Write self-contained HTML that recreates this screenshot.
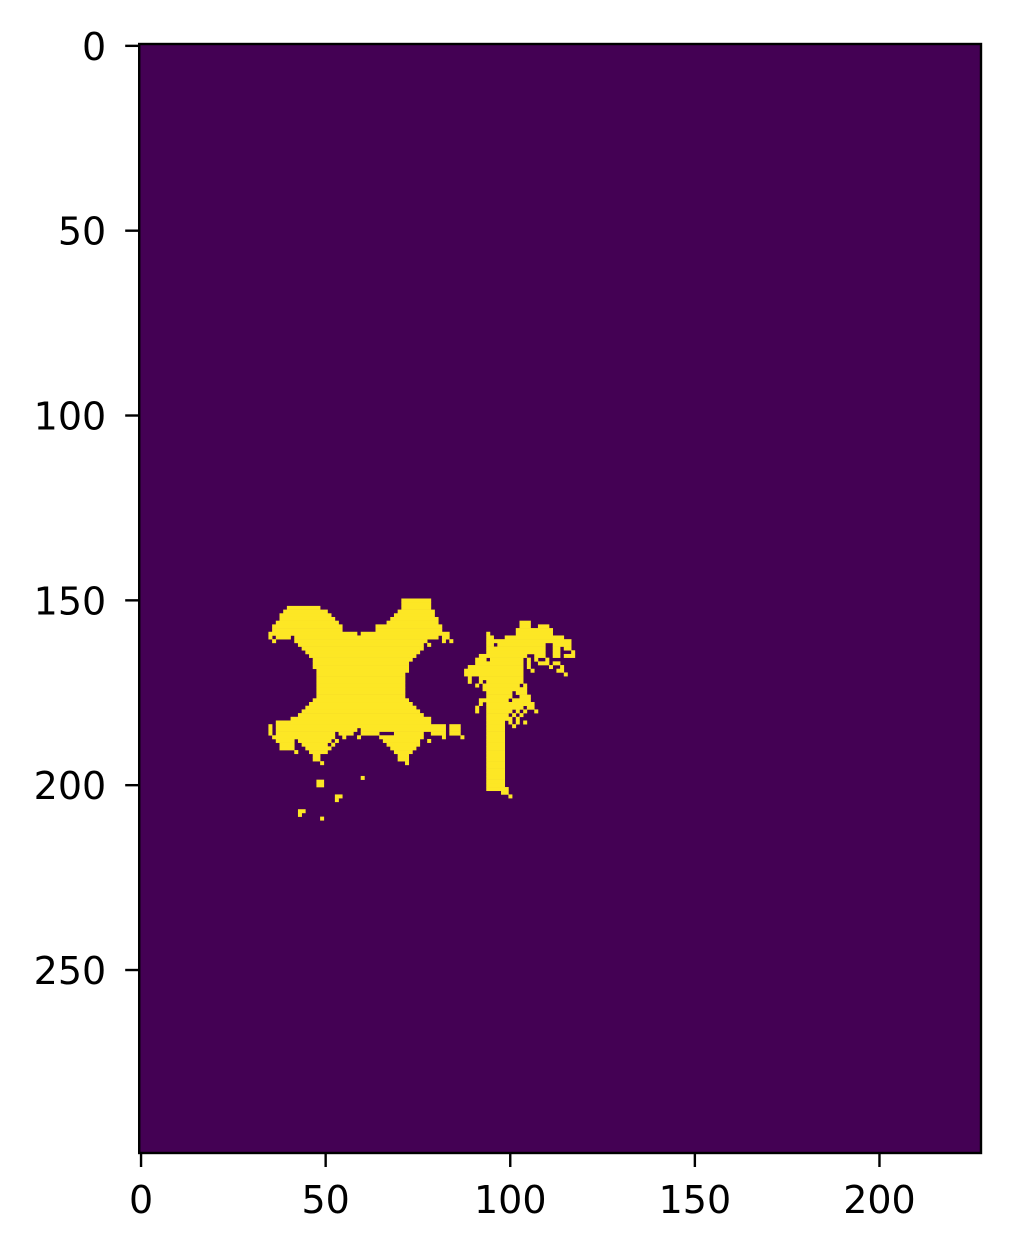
<!DOCTYPE html>
<html><head><meta charset="utf-8"><style>
body{margin:0;background:#fff;}
svg text{font-family:"DejaVu Sans","Liberation Sans",sans-serif;font-size:38px;fill:#000;}
</style></head><body>
<svg width="1011" height="1254" xmlns="http://www.w3.org/2000/svg">
<g id="plot"></g>
</svg>
<script>
const nCols = 228;
const nRows = 300;
const xTicks = [0,50,100,150,200];
const yTicks = [0,50,100,150,200,250];
// mask runs: [row, colStart, colEnd]
const maskRuns = [
[150,71,78],[151,71,78],
[152,40,48],[152,71,78],[153,39,50],[153,70,79],[154,38,51],[154,69,79],[155,38,52],[155,68,80],
[156,37,53],[156,67,80],[157,36,54],[157,64,81],[158,36,54],[158,64,81],
[159,35,58],[159,60,83],[160,35,35],[160,37,40],[160,42,80],[160,82,83],
[161,36,36],[161,42,77],[161,82,82],[161,84,84],
[162,43,76],[162,78,78],[163,44,75],[163,76,76],[164,45,74],[164,75,75],[165,46,73],[165,74,74],
[166,47,72],[166,73,73],[167,47,72],[168,47,72],[169,48,71],[169,72,72],
[170,48,71],[171,48,71],[172,48,71],[173,48,71],[174,48,71],[175,48,71],[176,48,71],
[177,47,72],[178,46,73],[179,45,74],[180,44,75],[181,43,76],[182,41,78],[183,37,78],
[184,35,35],[184,37,82],[184,84,86],[185,35,35],[185,37,58],[185,60,82],[185,84,86],
[186,35,35],[186,37,52],[186,54,57],[186,60,64],[186,69,76],[186,79,82],[186,84,86],
[187,36,36],[187,37,52],[187,55,55],[187,59,59],[187,65,76],[187,82,82],[187,87,87],
[188,37,41],[188,43,51],[188,53,53],[188,66,75],[188,78,78],
[189,38,41],[189,44,50],[189,52,52],[189,67,74],[189,75,75],
[190,38,41],[190,45,50],[190,51,51],[190,68,73],[190,74,74],
[191,42,42],[191,46,49],[191,50,50],[191,69,72],[191,73,73],
[192,47,48],[192,70,72],[193,47,48],[193,70,72],[194,49,49],[194,72,72],
[198,60,60],[199,48,49],[200,48,49],[203,53,54],[204,53,53],[207,43,44],[208,43,43],[209,49,49],
[156,103,105],[157,103,105],[157,108,110],[158,102,111],[159,94,94],[159,102,111],
[160,94,95],[160,99,114],[161,94,116],[162,94,95],[162,97,109],[162,112,116],
[163,94,109],[163,112,113],[163,115,116],[164,94,109],[164,112,113],[164,117,117],
[165,92,104],[165,107,109],[165,112,113],[165,115,117],
[166,91,93],[166,95,103],[166,105,105],[166,107,107],[166,110,110],
[167,91,103],[167,105,105],[167,108,110],[167,112,113],
[168,89,103],[168,105,105],[168,111,111],[168,114,114],
[169,88,103],[169,106,106],[169,113,114],[170,88,103],[170,115,115],
[171,89,89],[171,92,103],[172,89,89],[172,92,92],[172,94,103],
[173,91,91],[173,93,102],[173,104,104],[174,93,104],[175,94,100],[175,102,104],
[176,94,100],[176,103,105],[177,92,99],[177,101,105],[178,92,92],[178,94,103],[178,104,106],
[179,91,91],[179,94,102],[179,103,103],[179,105,106],
[180,91,91],[180,94,100],[180,102,102],[180,104,104],[180,107,107],
[181,94,99],[181,101,101],[181,103,103],[182,94,100],[182,102,102],
[183,94,98],[183,100,100],[183,102,102],[183,104,104],[184,94,98],[184,101,101],
[185,94,98],[186,94,98],[187,94,98],[188,94,98],[189,94,98],[190,94,98],[191,94,98],[192,94,98],
[193,94,98],[194,94,98],[195,94,98],[196,94,98],[197,94,98],[198,94,98],[199,94,98],[200,94,98],
[201,94,99],[202,98,99],[203,100,100]
];
const L=139.2, R=981, T=44, B=1153;
const sx = v => L + (v+0.5)/nCols*(R-L);
const sy = v => T + (v+0.5)/nRows*(B-T);
const NS="http://www.w3.org/2000/svg";
const g=document.getElementById('plot');
function mk(tag, attrs){const e=document.createElementNS(NS,tag);for(const k in attrs)e.setAttribute(k,attrs[k]);g.appendChild(e);return e;}
const bg=mk('rect',{x:L,y:T,width:R-L,height:B-T,fill:'#440154'});


maskRuns.forEach(r=>{
  const x0=sx(r[1]-0.5), x1=sx(r[2]+0.5), y0=sy(r[0]-0.5), y1=sy(r[0]+0.5);
  const e=mk('rect',{x:x0,y:y0,width:x1-x0+0.3,height:y1-y0+0.3,fill:'#fde725'});
  
  
});
const fr=mk('rect',{x:L,y:T,width:R-L,height:B-T,fill:'none',stroke:'#000','stroke-width':2.4});


xTicks.forEach(v=>{
  const x=sx(v);
  const t=mk('line',{x1:x,x2:x,y1:B,y2:B+14,stroke:'#000','stroke-width':2.4});
  
  
  const l=mk('text',{x:x,y:B+60,'text-anchor':'middle'});
  l.textContent=v;
  
  
});
yTicks.forEach(v=>{
  const y=sy(v);
  const t=mk('line',{x1:L-14,x2:L,y1:y,y2:y,stroke:'#000','stroke-width':2.4});
  
  
  const l=mk('text',{x:L-33,y:y+14,'text-anchor':'end'});
  l.textContent=v;
  
  
});
</script>
</body></html>
